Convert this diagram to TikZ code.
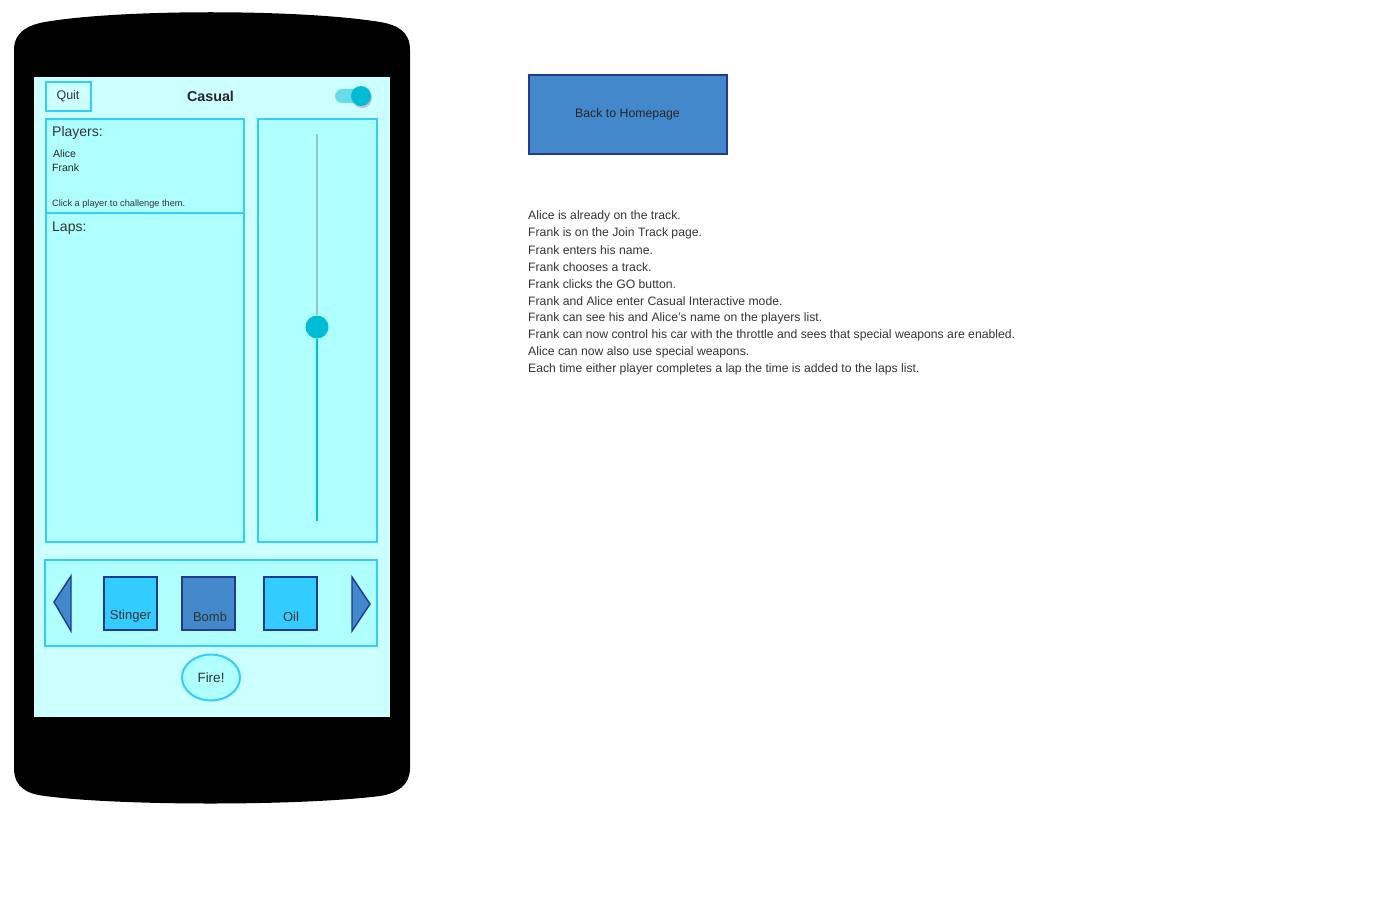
\documentclass[tikz,border=0pt]{standalone}
\usepackage{fontspec}
\setmainfont{Liberation Sans}
\usetikzlibrary{shapes.geometric}
\definecolor{screenc}{HTML}{CCFFFF}
\definecolor{panelc}{HTML}{AFFFFF}
\definecolor{edgec}{HTML}{33CCFF}
\definecolor{darkb}{HTML}{1F3A8F}
\definecolor{midb}{HTML}{4488CC}
\definecolor{lightb}{HTML}{33CCFF}
\definecolor{knobc}{HTML}{00BCD4}
\definecolor{trackc}{HTML}{66DCEA}
\definecolor{greyc}{HTML}{99C4C4}
\definecolor{txtc}{HTML}{333333}
\tikzset{
  panel/.style={draw=edgec, line width=2pt, fill=panelc},
  weapon/.style={draw=darkb, line width=1.6pt, minimum width=53pt, minimum height=53pt, inner sep=0pt},
  wlabel/.style={font=\fontsize{13}{15}\selectfont, text=txtc},
  arrowtri/.style={draw=darkb, line width=1.4pt, fill=midb},
  story/.style={anchor=west, font=\fontsize{12.2}{14}\selectfont, text=txtc, inner sep=0pt},
}
\begin{document}
\begin{tikzpicture}[x=1pt,y=-1pt]
\useasboundingbox (0,0) rectangle (1378,915);
% phone body
\fill[black] (14,50) -- (14,768) .. controls (14,788) and (28,794) .. (45,796)
  .. controls (120,806) and (300,806) .. (380,796)
  .. controls (398,793) and (410,785) .. (410,768)
  -- (410,50) .. controls (410,32) and (398,25) .. (380,22)
  .. controls (300,9) and (120,9) .. (45,22)
  .. controls (28,25) and (14,32) .. (14,50) -- cycle;
% screen
\fill[screenc] (34,77) rectangle (390,717);
% top bar
\node[draw=edgec, line width=2pt, fill=screenc, minimum width=45pt, minimum height=29pt, inner sep=0pt,
  font=\fontsize{12.5}{14}\selectfont, text=txtc] (quit) at (68,96.5) {Quit};
\node[font=\bfseries\fontsize{14.3}{16}\selectfont, text=black!85] (casual) at (210.5,96.5) {Casual};
\fill[trackc, rounded corners=7pt] (335,89) rectangle (369,103);
\fill[black!25] (362,98) circle (10);
\fill[knobc] (361,96) circle (10);
% players panel
\node[panel, minimum width=198pt, minimum height=94pt, inner sep=0pt] (players) at (145,166) {};
\node[anchor=west, inner sep=0pt, font=\fontsize{14}{16}\selectfont, text=txtc] (plabel) at (52,132.5) {Players:};
\node[anchor=west, inner sep=0pt, font=\fontsize{10.5}{12}\selectfont, text=black!85] (alice) at (53,153.5) {Alice};
\node[anchor=west, inner sep=0pt, font=\fontsize{10.5}{12}\selectfont, text=black!85] (frank) at (52,167.5) {Frank};
\node[anchor=west, inner sep=0pt, font=\fontsize{9.2}{11}\selectfont, text=txtc] (hint) at (52,204) {Click a player to challenge them.};
% laps panel
\node[panel, minimum width=198pt, minimum height=329pt, inner sep=0pt] (laps) at (145,377.5) {};
\node[anchor=west, inner sep=0pt, font=\fontsize{14}{16}\selectfont, text=txtc] (llabel) at (52,228.5) {Laps:};
% slider panel
\node[panel, minimum width=119pt, minimum height=423pt, inner sep=0pt] (sliderbox) at (317.5,330.5) {};
\coordinate (stop) at (317,134);
\coordinate (sbot) at (317,521);
\node[circle, fill=knobc, minimum size=23pt, inner sep=0pt] (knob) at (317,327) {};
\draw[greyc, line width=1.6pt] (stop) -- (knob.north);
\draw[knobc, line width=1.6pt] (knob.south) -- (sbot);
% weapons bar
\node[panel, minimum width=332pt, minimum height=86pt, inner sep=0pt] (bar) at (211,603) {};
\draw[arrowtri] (71,576) -- (71,631) -- (54,602) -- cycle;
\draw[arrowtri] (352,577) -- (352,631) -- (370,604) -- cycle;
\node[weapon, fill=lightb] (stinger) at (130.5,603.5) {};
\node[wlabel] at (130.5,616.5) {Stinger};
\node[weapon, fill=midb] (bomb) at (208.5,603.5) {};
\node[wlabel] at (210,616.5) {Bomb};
\node[weapon, fill=lightb] (oil) at (290.5,603.5) {};
\node[wlabel] at (291,616.5) {Oil};
% fire button
\node[ellipse, draw=edgec, line width=2pt, fill=panelc, minimum width=58pt, minimum height=46pt, inner sep=0pt,
  font=\fontsize{13.5}{15}\selectfont, text=txtc] (fire) at (211,677.5) {Fire!};
% back to homepage
\node[draw=darkb, line width=2pt, fill=midb, minimum width=198pt, minimum height=78pt, inner sep=0pt,
  font=\fontsize{12.3}{14}\selectfont, text=black!85] (home) at (627.5,114.5) {Back to Homepage};
% story text
\node[story] (l1) at (528,216.5) {Alice is already on the track.};
\node[story] (l2) at (528,233.5) {Frank is on the Join Track page.};
\node[story] (l3) at (528,250.5) {Frank enters his name.};
\node[story] (l4) at (528,267.5) {Frank chooses a track.};
\node[story] (l5) at (528,284.5) {Frank clicks the GO button.};
\node[story] (l6) at (528,301.5) {Frank and Alice enter Casual Interactive mode.};
\node[story] (l7) at (528,318.5) {Frank can see his and Alice's name on the players list.};
\node[story] (l8) at (528,335.5) {Frank can now control his car with the throttle and sees that special weapons are enabled.};
\node[story] (l9) at (528,352.5) {Alice can now also use special weapons.};
\node[story] (l10) at (528,369.5) {Each time either player completes a lap the time is added to the laps list.};
\end{tikzpicture}
\end{document}
